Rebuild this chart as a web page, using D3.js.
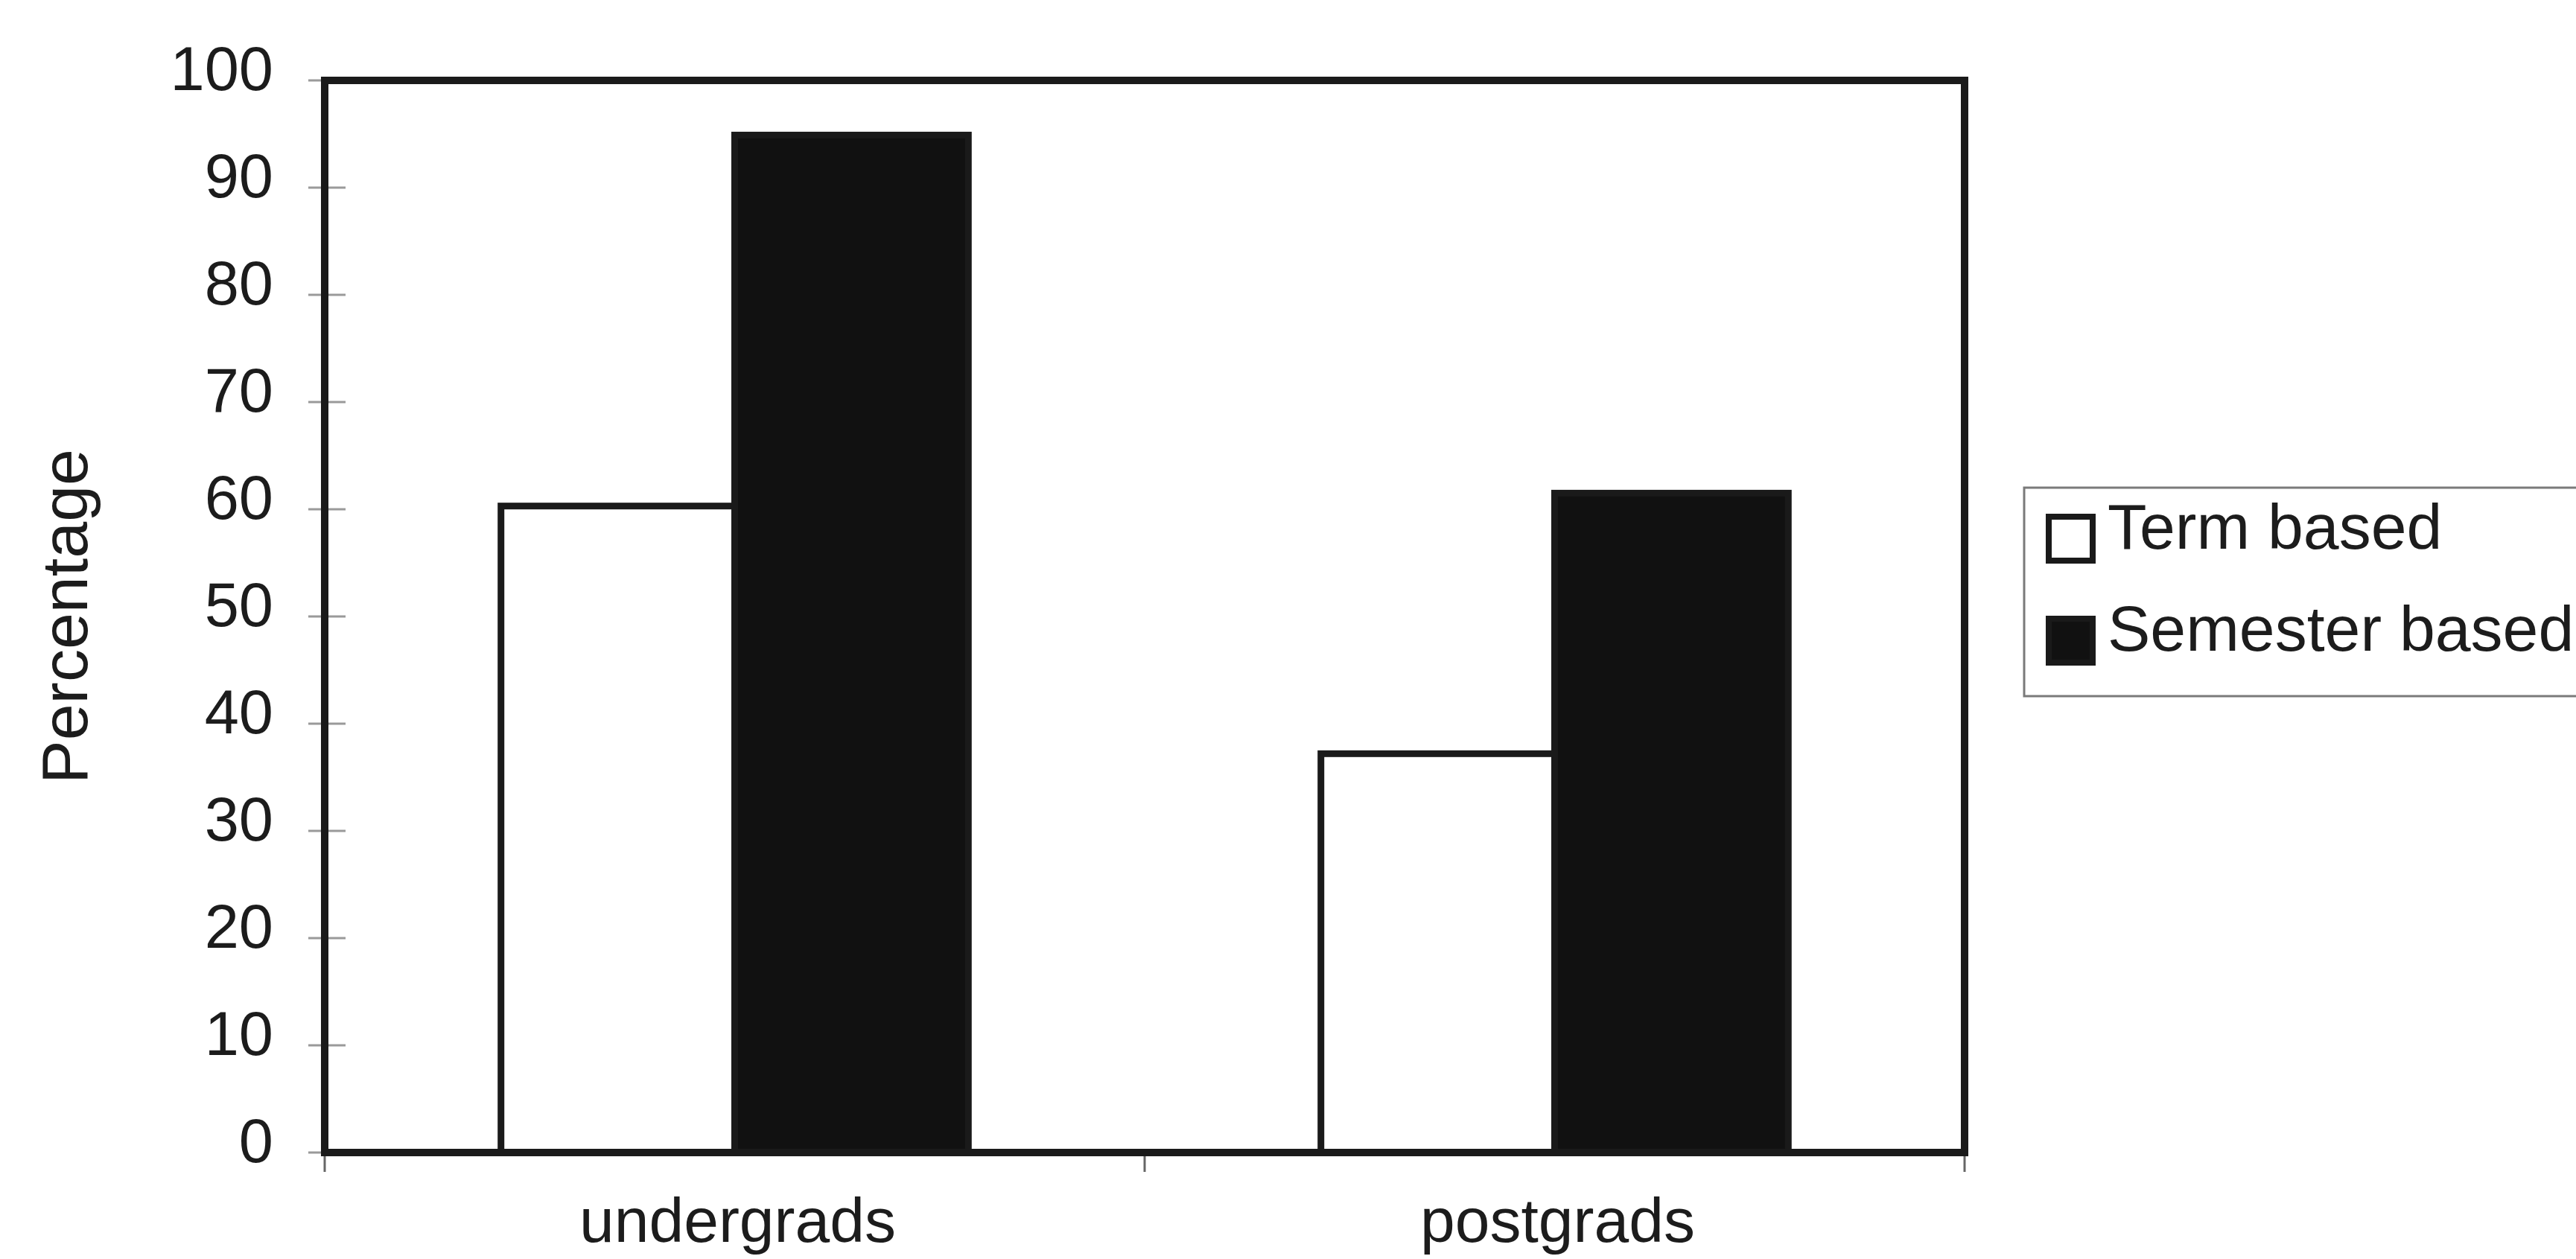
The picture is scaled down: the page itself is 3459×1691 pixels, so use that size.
<!DOCTYPE html>
<html>
<head>
<meta charset="utf-8">
<script src="https://cdn.jsdelivr.net/npm/d3@7/dist/d3.min.js"></script>
<style>
  html, body { margin: 0; padding: 0; background: #fff; }
  text { font-family: "Liberation Sans", Arial, sans-serif; fill: #1c1c1c; }
</style>
</head>
<body>
<div id="vis"></div>
<script>
// data
var categories = ["undergrads", "postgrads"];
var seriesNames = ["Term based", "Semester based"];
var termValues = [60.3, 37.2];
var semesterValues = [94.9, 61.5];
var yTicks = [0, 10, 20, 30, 40, 50, 60, 70, 80, 90, 100];

var W = 3459, H = 1691;

/* plot frame in page pixels */
var plot = {left: 436, right: 2638, top: 108, bottom: 1548};

var svg = d3.select("#vis").append("svg")
    .attr("width", W)
    .attr("height", H);

var scaleY = d3.scaleLinear()
    .domain([0, 100])
    .range([plot.bottom, plot.top]);

var scaleX = d3.scaleBand()
    .domain(categories)
    .range([plot.left, plot.right])
    .paddingInner(0.43)
    .paddingOuter(0.215);

var scaleSeries = d3.scaleBand()
    .domain(seriesNames)
    .range([0, scaleX.bandwidth()]);

/* build rows for the bars */
var rows = [];
categories.forEach(function(c, i) {
    rows.push({cat: c, series: seriesNames[0], value: termValues[i]});
    rows.push({cat: c, series: seriesNames[1], value: semesterValues[i]});
});

/* y axis labels */
var leftAxis = d3.axisLeft(scaleY)
    .tickValues(yTicks)
    .tickSize(0)
    .tickPadding(plot.left - 367);

var gy = svg.append("g")
    .attr("transform", "translate(" + plot.left + ",0)")
    .call(leftAxis);
gy.select(".domain").remove();
gy.selectAll("text")
    .attr("dy", 12)
    .style("font-size", "83px")
    .style("font-family", "Liberation Sans, Arial, sans-serif")
    .attr("fill", "#1c1c1c");

/* faint tick marks crossing the y axis */
svg.selectAll(".ytick")
    .data(yTicks)
    .enter()
    .append("line")
    .attr("class", "ytick")
    .attr("x1", plot.left - 22)
    .attr("x2", plot.left + 28)
    .attr("y1", function(d) { return scaleY(d); })
    .attr("y2", function(d) { return scaleY(d); })
    .attr("stroke", "#9a9a9a")
    .attr("stroke-width", 3);

/* category boundary ticks below the x axis */
var step = scaleX.step();
var boundaries = [plot.left, plot.left + step, plot.right];
svg.selectAll(".xtick")
    .data(boundaries)
    .enter()
    .append("line")
    .attr("class", "xtick")
    .attr("x1", function(d) { return d; })
    .attr("x2", function(d) { return d; })
    .attr("y1", plot.bottom)
    .attr("y2", plot.bottom + 26)
    .attr("stroke", "#666")
    .attr("stroke-width", 3);

/* bars */
svg.selectAll(".bar")
    .data(rows)
    .enter()
    .append("rect")
    .attr("class", "bar")
    .attr("x", function(d) { return scaleX(d.cat) + scaleSeries(d.series); })
    .attr("y", function(d) { return scaleY(d.value); })
    .attr("width", scaleSeries.bandwidth())
    .attr("height", function(d) { return plot.bottom - scaleY(d.value); })
    .attr("fill", function(d) { return d.series === seriesNames[0] ? "#fff" : "#111"; })
    .attr("stroke", "#1a1a1a")
    .attr("stroke-width", 9);

/* plot frame */
svg.append("rect")
    .attr("x", plot.left)
    .attr("y", plot.top)
    .attr("width", plot.right - plot.left)
    .attr("height", plot.bottom - plot.top)
    .attr("fill", "none")
    .attr("stroke", "#1a1a1a")
    .attr("stroke-width", 10);

/* category labels */
svg.selectAll(".catLabel")
    .data(categories)
    .enter()
    .append("text")
    .attr("class", "catLabel")
    .attr("x", function(d) { return scaleX(d) + scaleX.bandwidth() / 2 + 4; })
    .attr("y", 1668)
    .attr("text-anchor", "middle")
    .style("font-size", "84px")
    .text(function(d) { return d; });

/* y axis title */
svg.append("text")
    .attr("transform", "translate(117," + ((plot.top + plot.bottom) / 2) + ") rotate(-90)")
    .attr("text-anchor", "middle")
    .style("font-size", "88px")
    .text("Percentage");

/* legend */
var legend = svg.append("g");
legend.append("rect")
    .attr("x", 2718)
    .attr("y", 655)
    .attr("width", 800)
    .attr("height", 280)
    .attr("fill", "#fff")
    .attr("stroke", "#7a7a7a")
    .attr("stroke-width", 3);

var items = legend.selectAll(".item")
    .data(seriesNames)
    .enter()
    .append("g")
    .attr("class", "item")
    .attr("transform", function(d, i) { return "translate(2747," + (690 + i * 137) + ")"; });

items.append("rect")
    .attr("x", 4)
    .attr("y", 4)
    .attr("width", 59)
    .attr("height", 59)
    .attr("fill", function(d, i) { return i === 0 ? "#fff" : "#111"; })
    .attr("stroke", "#1a1a1a")
    .attr("stroke-width", 8);

items.append("text")
    .attr("x", 83)
    .attr("y", 47)
    .style("font-size", "86px")
    .text(function(d) { return d; });
</script>
</body>
</html>
